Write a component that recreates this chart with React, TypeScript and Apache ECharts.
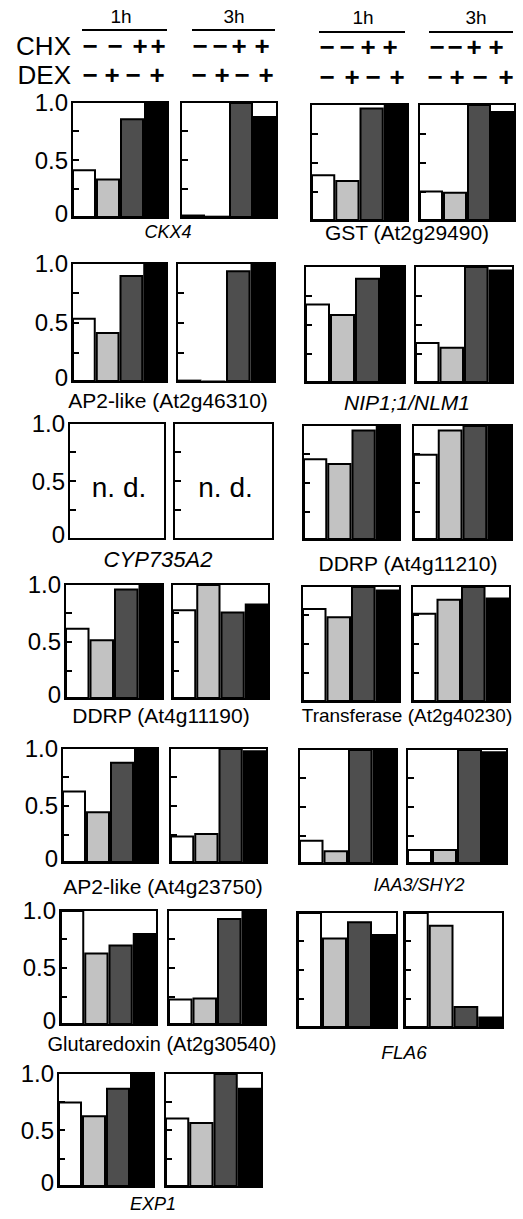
import React, { useEffect, useRef } from 'react';
import * as echarts from 'echarts';

// ---------- data ----------
const conditions = ['CHX− DEX−', 'CHX− DEX+', 'CHX+ DEX−', 'CHX+ DEX+'];
const timePoints = ['1h', '3h'];
const chxSigns = ['−', '−', '+', '+'];
const dexSigns = ['−', '+', '−', '+'];
const yTickLabels: Record<string, string> = { '0': '{z|0}', '0.5': '0.5', '1': '1.0' };

const genes = [
  'CKX4', 'GST (At2g29490)',
  'AP2-like (At2g46310)', 'NIP1;1/NLM1',
  'CYP735A2', 'DDRP (At4g11210)',
  'DDRP (At4g11190)', 'Transferase (At2g40230)',
  'AP2-like (At4g23750)', 'IAA3/SHY2',
  'Glutaredoxin (At2g30540)', 'FLA6',
  'EXP1',
];
const italicGenes = ['CKX4', 'NIP1;1/NLM1', 'CYP735A2', 'IAA3/SHY2', 'FLA6', 'EXP1'];

// relative expression, order: CHX-DEX-, CHX-DEX+, CHX+DEX-, CHX+DEX+ ; null = n. d.
const values1h: (number[] | null)[] = [
  [0.42, 0.34, 0.86, 1.0],
  [0.40, 0.35, 0.97, 1.0],
  [0.54, 0.42, 0.90, 1.0],
  [0.68, 0.59, 0.90, 1.0],
  null,
  [0.71, 0.67, 0.96, 1.0],
  [0.62, 0.52, 0.96, 1.0],
  [0.81, 0.74, 1.0, 0.97],
  [0.63, 0.45, 0.88, 1.0],
  [0.21, 0.12, 1.0, 1.0],
  [1.0, 0.63, 0.70, 0.80],
  [1.0, 0.78, 0.92, 0.81],
  [0.75, 0.63, 0.87, 1.0],
];
const values3h: (number[] | null)[] = [
  [0.03, 0.02, 1.0, 0.88],
  [0.26, 0.25, 1.0, 0.94],
  [0.02, 0.01, 0.94, 1.0],
  [0.35, 0.31, 1.0, 0.97],
  null,
  [0.75, 0.96, 1.0, 1.0],
  [0.78, 1.0, 0.76, 0.83],
  [0.77, 0.89, 1.0, 0.90],
  [0.24, 0.26, 1.0, 0.98],
  [0.13, 0.13, 1.0, 0.98],
  [0.23, 0.24, 0.93, 1.0],
  [1.0, 0.89, 0.19, 0.10],
  [0.61, 0.57, 1.0, 0.87],
];

// ---------- layout / style ----------
const BAR_COLORS = ['#ffffff', '#c2c2c2', '#4e4e4e', '#000000'];
const FONT = "'Liberation Sans', Arial, Helvetica, sans-serif";

const PANEL_X = [
  [[72, 168], [181, 277], [311, 408], [419, 515]],
  [[72, 167], [177, 275], [305, 405], [415, 513]],
  [[69, 165], [174, 273], [303, 400], [413, 512]],
  [[65, 163], [172, 269], [302, 400], [412, 510]],
  [[62, 158], [170, 267], [299, 397], [407, 507]],
  [[60, 157], [168, 266], [297, 397], [404, 503]],
  [[58, 154], [165, 262]],
];
const PANEL_Y = [
  [[102, 218], [104, 221]],
  [[263, 382], [266, 383]],
  [[423, 539], [425, 540]],
  [[584, 699], [586, 702]],
  [[748, 863], [749, 864]],
  [[910, 1025], [912, 1028]],
  [[1073, 1187]],
];
const GENE_LABEL_POS = [
  [168, 232], [407, 232],
  [168, 400], [407, 402],
  [158, 559], [408, 563],
  [161, 715], [407, 715],
  [163, 886], [419, 885],
  [162, 1044], [404, 1052],
  [153, 1204],
];
const GENE_LABEL_SIZE = [18, 21, 21, 21, 22, 21, 21, 19, 21, 18, 20, 19, 18];
const HEADER_X = [121, 234, 363, 476];
const HEADER_LINES = [[82, 167, 30], [192, 275, 30], [319, 405, 32], [429, 513, 32]];
const CHX_X = [[90, 115, 140, 158], [200, 220, 239, 262], [327, 347, 368, 390], [437, 455, 474, 496]];
const DEX_X = [[90, 112, 133, 157], [199, 222, 242, 266], [327, 352, 373, 397], [435, 457, 480, 506]];

function txt(x: number, y: number, text: string, size: number, extra: any = {}) {
  return {
    type: 'text',
    x,
    y,
    z: 10,
    style: {
      text,
      fontSize: size,
      fontFamily: FONT,
      fill: '#000',
      align: 'center',
      verticalAlign: 'middle',
      textAlign: 'center',
      textVerticalAlign: 'middle',
      ...extra,
    },
  };
}

export default function App() {
  const ref = useRef<HTMLDivElement>(null);

  useEffect(() => {
    const chart = echarts.init(ref.current!, null, { renderer: 'svg' });
    const grids: any[] = [];
    const xAxes: any[] = [];
    const yAxes: any[] = [];
    const series: any[] = [];
    const graphics: any[] = [];

    genes.forEach((gene, gi) => {
      const row = Math.floor(gi / 2);
      const side = gi % 2;
      [values1h[gi], values3h[gi]].forEach((vals, ti) => {
        const p = side * 2 + ti;
        const [l, r] = PANEL_X[row][p];
        const [t, b] = PANEL_Y[row][side];
        const idx = grids.length;
        grids.push({
          left: l, top: t, width: r - l, height: b - t,
          show: true, borderColor: '#000', borderWidth: 2, backgroundColor: '#fff',
        });
        xAxes.push({ type: 'category', gridIndex: idx, data: conditions, show: false });
        yAxes.push({
          type: 'value', gridIndex: idx, min: 0, max: 1, interval: 0.25, z: 5,
          axisLine: { show: false },
          splitLine: { show: false },
          axisTick: { show: true, inside: true, length: 7, lineStyle: { color: '#000', width: 2 } },
          axisLabel: {
            show: p === 0,
            margin: 4,
            fontSize: 24,
            lineHeight: 24,
            fontFamily: FONT,
            color: '#000',
            formatter: (v: number) => yTickLabels[String(v)] ?? '',
            rich: {
              z: { fontSize: 24, lineHeight: 24, fontFamily: FONT, color: '#000', padding: [0, 0, 10, 0] },
            },
          },
        });
        series.push({
          type: 'bar',
          name: `${gene} ${timePoints[ti]}`,
          xAxisIndex: idx,
          yAxisIndex: idx,
          barWidth: '100%',
          barCategoryGap: '0%',
          silent: true,
          itemStyle: { borderColor: '#000', borderWidth: 2 },
          data: vals ? vals.map((v, i) => ({ value: v, itemStyle: { color: BAR_COLORS[i] } })) : [],
        });
        if (!vals) {
          graphics.push(txt((l + r) / 2 + 2, t + (b - t) * 0.56, 'n. d.', 28));
        }
      });
      const [gx, gy] = GENE_LABEL_POS[gi];
      const italic = italicGenes.includes(gene);
      graphics.push(txt(gx, gy, gene, GENE_LABEL_SIZE[gi], italic ? { fontStyle: 'italic' } : {}));
    });

    // header
    for (let p = 0; p < 4; p++) {
      const side = p >= 2 ? 1 : 0;
      graphics.push(txt(HEADER_X[p], 16 + side, timePoints[p % 2], 19));
      const [x1, x2, y] = HEADER_LINES[p];
      graphics.push({ type: 'line', z: 10, shape: { x1, y1: y, x2, y2: y }, style: { stroke: '#000', lineWidth: 2 } });
      for (let i = 0; i < 4; i++) {
        graphics.push(txt(CHX_X[p][i], 46 + side, chxSigns[i], 26, { fontWeight: 'bold' }));
        graphics.push(txt(DEX_X[p][i], 75 + side * 2, dexSigns[i], 26, { fontWeight: 'bold' }));
      }
    }
    graphics.push(txt(71, 46, 'CHX', 26, { align: 'right', textAlign: 'right' }));
    graphics.push(txt(71, 75, 'DEX', 26, { align: 'right', textAlign: 'right' }));

    chart.setOption({
      animation: false,
      backgroundColor: '#fff',
      grid: grids,
      xAxis: xAxes,
      yAxis: yAxes,
      series,
      graphic: { elements: graphics },
    });
    return () => chart.dispose();
  }, []);

  return <div ref={ref} style={{ position: 'absolute', left: 0, top: 0, width: 523, height: 1219 }} />;
}
